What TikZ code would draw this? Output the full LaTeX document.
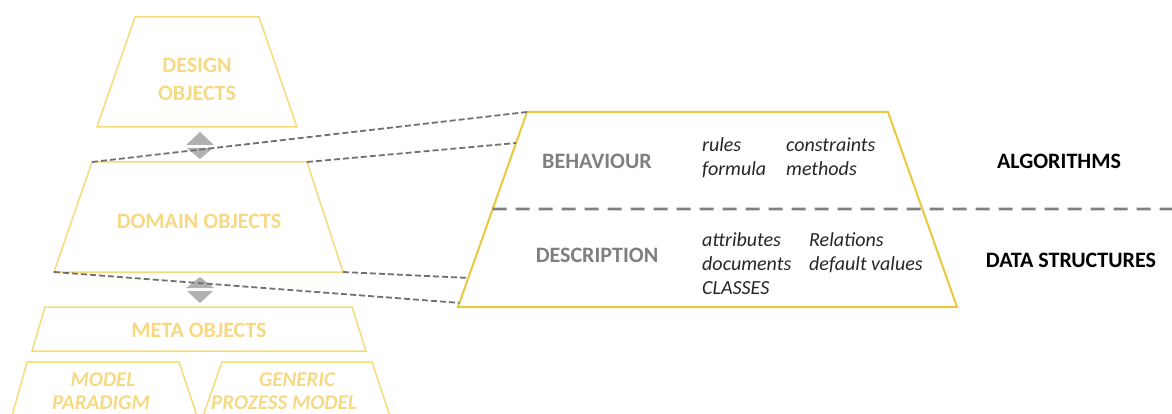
\documentclass[tikz,border=0pt]{standalone}
\usepackage{fontspec}
\setmainfont{Carlito}
\usetikzlibrary{calc}

\definecolor{paleline}{HTML}{F5DA7A}
\definecolor{paletext}{HTML}{F7D983}
\definecolor{goldline}{HTML}{E9C83F}
\definecolor{linkgray}{HTML}{707070}
\definecolor{splitgray}{HTML}{808080}
\definecolor{headgray}{HTML}{7F7F7F}
\definecolor{itemtext}{HTML}{262626}
\definecolor{arrowgray}{HTML}{B0B0B0}

\begin{document}
\begin{tikzpicture}[x=1pt,y=-1pt,
  levelbox/.style={draw=paleline,line width=1.5pt,line join=miter},
  detailbox/.style={draw=goldline,line width=2pt,line join=miter},
  leveltext/.style={text=paletext,font=\fontsize{22}{26}\selectfont\bfseries,inner sep=0pt,anchor=base},
  levelital/.style={leveltext,font=\fontsize{21}{25}\selectfont\bfseries\itshape},
  headtext/.style={text=headgray,font=\fontsize{22}{26}\selectfont\bfseries,inner sep=0pt,anchor=base},
  sidetext/.style={text=black,font=\fontsize{22}{26}\selectfont\bfseries,inner sep=0pt,anchor=base},
  itemlabel/.style={text=itemtext,font=\fontsize{20}{24}\selectfont\itshape,inner sep=0pt,anchor=base west},
  link/.style={draw=linkgray,line width=1.8pt,dash pattern=on 6pt off 3pt},
  splitline/.style={draw=splitgray,line width=2.8pt,dash pattern=on 14pt off 9pt},
  switch/.style={fill=arrowgray,draw=none}
]
\useasboundingbox (0,0) rectangle (1172,414);

% ---- level pyramid on the left ----
% design objects
\coordinate (des-tl) at (135,17);  \coordinate (des-tr) at (259,17);
\coordinate (des-br) at (297,127); \coordinate (des-bl) at (97,127);
\draw[levelbox] (des-tl) -- (des-tr) -- (des-br) -- (des-bl) -- cycle;
\node[leveltext] (des-1) at (197,73) {DESIGN};
\node[leveltext] (des-2) at (197,101) {OBJECTS};

% domain objects
\coordinate (dom-tl) at (92,162);  \coordinate (dom-tr) at (307,162);
\coordinate (dom-br) at (343,272); \coordinate (dom-bl) at (54,272);
\draw[levelbox] (dom-tl) -- (dom-tr) -- (dom-br) -- (dom-bl) -- cycle;
\node[leveltext] (dom) at (199,229) {DOMAIN OBJECTS};

% meta objects
\coordinate (meta-tl) at (45,307);  \coordinate (meta-tr) at (352,307);
\coordinate (meta-br) at (366,351); \coordinate (meta-bl) at (32,351);
\draw[levelbox] (meta-tl) -- (meta-tr) -- (meta-br) -- (meta-bl) -- cycle;
\node[leveltext] (meta) at (199,337) {META OBJECTS};

% model paradigm and generic process model (cut off at the bottom)
\draw[levelbox] (12,416) -- (27,362) -- (179,362) -- (197,416);
\node[levelital] (mp-1) at (103,386) {MODEL};
\node[levelital] (mp-2) at (101,409) {PARADIGM};
\draw[levelbox] (203,416) -- (222,362) -- (372,362) -- (390,416);
\node[levelital] (gp-1) at (297,386) {GENERIC};
\node[levelital] (gp-2) at (284,409) {PROZESS MODEL};

% switching arrows between levels
\fill[switch] (186,145) -- (200,132) -- (214,145) -- cycle;
\fill[switch] (187,148) -- (213,148) -- (200,159) -- cycle;
\fill[switch] (186,288) -- (200,277) -- (214,288) -- cycle;
\fill[switch] (187,291) -- (213,291) -- (200,303) -- cycle;

% ---- detail of the domain objects ----
\coordinate (det-tl) at (527,112); \coordinate (det-tr) at (888,112);
\coordinate (det-br) at (957,307); \coordinate (det-bl) at (458,307);
\draw[detailbox] (det-tl) -- (det-tr) -- (det-br) -- (det-bl) -- cycle;

\coordinate (det-a) at ($(det-tl)!0.159!(det-bl)$);
\coordinate (det-mid) at ($(det-tl)!0.497!(det-bl)$);
\coordinate (det-b) at ($(det-tl)!0.851!(det-bl)$);
\coordinate (det-c) at ($(det-tl)!0.979!(det-bl)$);
\coordinate (split-end) at (1172,209);

\draw[splitline] (det-mid) -- (split-end);

\node[headtext] (beh) at (597,169) {BEHAVIOUR};
\node[headtext] (desc) at (597,262) {DESCRIPTION};

\node[itemlabel] (rules) at (702,152) {rules};
\node[itemlabel] (constraints) at (786,152) {constraints};
\node[itemlabel] (formula) at (702,176) {formula};
\node[itemlabel] (methods) at (786,176) {methods};

\node[itemlabel] (attributes) at (702,246) {attributes};
\node[itemlabel] (relations) at (809,246) {Relations};
\node[itemlabel] (documents) at (702,270) {documents};
\node[itemlabel] (defaults) at (809,270) {default values};
\node[itemlabel] (classes) at (702,294) {CLASSES};

\node[sidetext] (algo) at (1059,169) {ALGORITHMS};
\node[sidetext] (datastruct) at (1071,267) {DATA STRUCTURES};

% ---- links from the domain level to its detail ----
\draw[link] (dom-tl) -- (det-tl);
\draw[link] (dom-tr) -- (det-a);
\draw[link] (dom-br) -- (det-b);
\draw[link] (dom-bl) -- (det-c);

\end{tikzpicture}
\end{document}
